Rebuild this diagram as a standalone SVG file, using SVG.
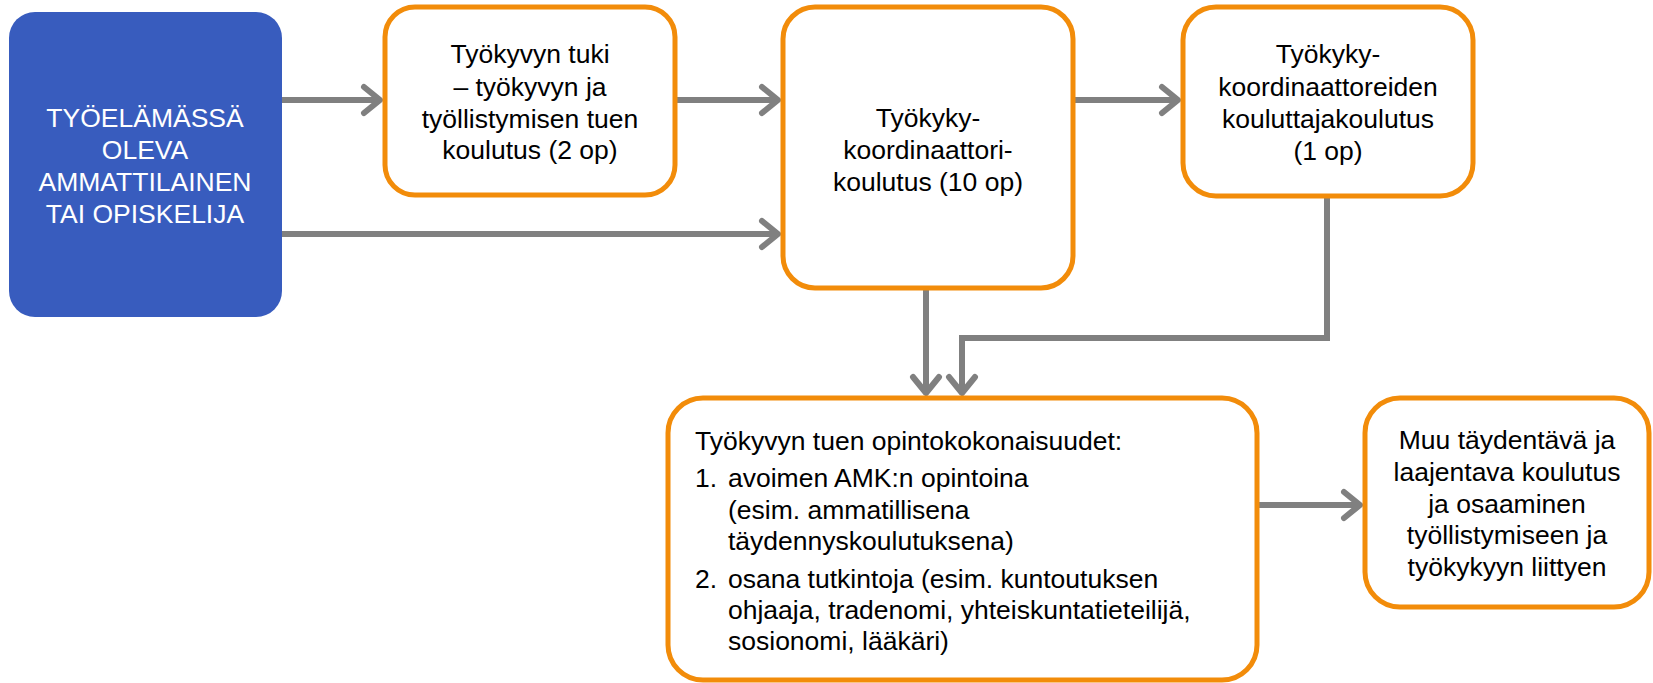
<svg xmlns="http://www.w3.org/2000/svg" width="1653" height="683" viewBox="0 0 1653 683">
  <style>
    .box { fill: #ffffff; stroke: #F28C0A; stroke-width: 5; }
    .start { fill: #385CBE; stroke: none; }
    .t { font-family: "Liberation Sans", Arial, sans-serif; font-size: 26.5px; fill: #000000; }
    .c { text-anchor: middle; }
    .w { fill: #ffffff; }
    .conn { fill: none; stroke: #808080; stroke-width: 6; stroke-linejoin: miter; }
  </style>
  <defs>
    <marker id="ah" markerUnits="userSpaceOnUse" viewBox="-25 -20 30 40" refX="0" refY="0" markerWidth="30" markerHeight="40" orient="auto" overflow="visible">
      <path d="M-16,-13 L0,0 L-16,13" fill="none" stroke="#808080" stroke-width="6" stroke-linecap="round" stroke-linejoin="round"/>
    </marker>
  </defs>
  <rect width="1653" height="683" fill="#ffffff"/>

  <g id="connectors">
    <path class="conn" d="M282,100 H380" marker-end="url(#ah)"/>
    <path class="conn" d="M675,100 H778" marker-end="url(#ah)"/>
    <path class="conn" d="M1073,100 H1178" marker-end="url(#ah)"/>
    <path class="conn" d="M282,234 H778" marker-end="url(#ah)"/>
    <path class="conn" d="M926,288 V393" marker-end="url(#ah)"/>
    <path class="conn" d="M1327,196 V338 H962 V393" marker-end="url(#ah)"/>
    <path class="conn" d="M1258,505 H1360" marker-end="url(#ah)"/>
  </g>

  <g id="node-start">
    <rect class="start" x="9" y="12" width="273" height="305" rx="26" ry="26"/>
    <text class="t c w" x="145" y="127">TYÖELÄMÄSSÄ</text>
    <text class="t c w" x="145" y="159">OLEVA</text>
    <text class="t c w" x="145" y="191">AMMATTILAINEN</text>
    <text class="t c w" x="145" y="223">TAI OPISKELIJA</text>
  </g>

  <g id="node-tuki">
    <rect class="box" x="385" y="7" width="290" height="188" rx="30" ry="30"/>
    <text class="t c" x="530" y="63">Työkyvyn tuki</text>
    <text class="t c" x="530" y="96">– työkyvyn ja</text>
    <text class="t c" x="530" y="128">työllistymisen tuen</text>
    <text class="t c" x="530" y="159">koulutus (2 op)</text>
  </g>

  <g id="node-koordinaattori">
    <rect class="box" x="783" y="7" width="290" height="281" rx="32" ry="32"/>
    <text class="t c" x="928" y="127">Työkyky-</text>
    <text class="t c" x="928" y="159">koordinaattori-</text>
    <text class="t c" x="928" y="191">koulutus (10 op)</text>
  </g>

  <g id="node-kouluttaja">
    <rect class="box" x="1183" y="7" width="290" height="189" rx="33" ry="33"/>
    <text class="t c" x="1328" y="63">Työkyky-</text>
    <text class="t c" x="1328" y="96">koordinaattoreiden</text>
    <text class="t c" x="1328" y="128">kouluttajakoulutus</text>
    <text class="t c" x="1328" y="160">(1 op)</text>
  </g>

  <g id="node-opintokokonaisuudet">
    <rect class="box" x="668" y="398" width="589" height="282" rx="35" ry="35"/>
    <text class="t" x="695" y="450">Työkyvyn tuen opintokokonaisuudet:</text>
    <text class="t" x="695" y="487">1.</text>
    <text class="t" x="728" y="487">avoimen AMK:n opintoina</text>
    <text class="t" x="728" y="519">(esim. ammatillisena</text>
    <text class="t" x="728" y="550">täydennyskoulutuksena)</text>
    <text class="t" x="695" y="588">2.</text>
    <text class="t" x="728" y="588">osana tutkintoja (esim. kuntoutuksen</text>
    <text class="t" x="728" y="619">ohjaaja, tradenomi, yhteiskuntatieteilijä,</text>
    <text class="t" x="728" y="650">sosionomi, lääkäri)</text>
  </g>

  <g id="node-muu">
    <rect class="box" x="1365" y="398" width="284" height="209" rx="35" ry="35"/>
    <text class="t c" x="1507" y="449">Muu täydentävä ja</text>
    <text class="t c" x="1507" y="481">laajentava koulutus</text>
    <text class="t c" x="1507" y="513">ja osaaminen</text>
    <text class="t c" x="1507" y="544">työllistymiseen ja</text>
    <text class="t c" x="1507" y="576">työkykyyn liittyen</text>
  </g>
</svg>
